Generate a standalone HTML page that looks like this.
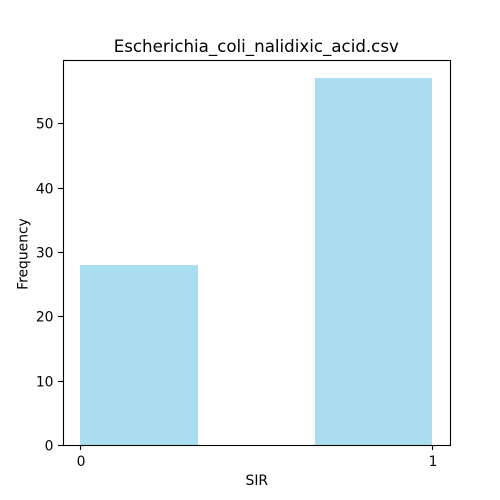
<!DOCTYPE html>
<html lang="en">
<head>
<meta charset="utf-8">
<title>Escherichia_coli_nalidixic_acid.csv</title>
<style>
html,body{margin:0;padding:0;background:#fff;width:500px;height:500px;overflow:hidden}
svg{display:block}
text{font-family:"DejaVu Sans",sans-serif;fill:#000}
</style>
</head>
<body>
<svg id="chart" xmlns="http://www.w3.org/2000/svg" width="500" height="500" viewBox="0 0 500 500">
  <rect x="0" y="0" width="500" height="500" fill="#ffffff"/>
  <g id="bars" shape-rendering="crispEdges"></g>
  <g id="ticks"></g>
  <rect x="63.5" y="60.5" width="387" height="385" fill="none" stroke="#000" stroke-width="1.1"/>
  <text x="256.3" y="52" font-size="16.67" text-anchor="middle">Escherichia_coli_nalidixic_acid.csv</text>
  <text x="256.8" y="485" font-size="13.89" text-anchor="middle">SIR</text>
  <text transform="translate(27.5 254) rotate(-90)" font-size="13.89" text-anchor="middle">Frequency</text>
</svg>
<script>
const binStarts = [0, 0.6667];
const binEnds = [0.3333, 1];
const frequencies = [28, 57];
const xTickValues = [0, 1];
const yTickValues = [0, 10, 20, 30, 40, 50];

const svgNS = 'http://www.w3.org/2000/svg';
const plotLeft = 62.5, plotRight = 450, plotTop = 60, plotBottom = 445;

const xMin = Math.min(...binStarts), xMax = Math.max(...binEnds);
const xPad = (xMax - xMin) * 0.05;
const yMax = Math.max(...frequencies) * 1.05;

function xScale(v) {
  return plotLeft + (v - (xMin - xPad)) / ((xMax + xPad) - (xMin - xPad)) * (plotRight - plotLeft);
}
function yScale(v) {
  return plotBottom - v / yMax * (plotBottom - plotTop);
}
function make(tag, attrs) {
  const el = document.createElementNS(svgNS, tag);
  for (const k in attrs) el.setAttribute(k, attrs[k]);
  return el;
}

const barsGroup = document.getElementById('bars');
frequencies.forEach(function (f, i) {
  const x0 = Math.round(xScale(binStarts[i])), x1 = Math.round(xScale(binEnds[i]));
  const y = Math.round(yScale(f));
  const bar = make('rect', {x: x0, y: y, width: x1 - x0, height: plotBottom - y, fill: '#87ceeb', 'fill-opacity': 0.7});
  
  
  barsGroup.appendChild(bar);
});

const ticksGroup = document.getElementById('ticks');
xTickValues.forEach(function (v) {
  const x = Math.round(xScale(v)) + 0.5;
  const tick = make('line', {x1: x, x2: x, y1: 445, y2: 450, stroke: '#000', 'stroke-width': 1.1});
  
  
  ticksGroup.appendChild(tick);
  const label = make('text', {x: x + 0.5, y: 466, 'font-size': 13.89, 'text-anchor': 'middle'});
  label.textContent = String(v);
  
  
  ticksGroup.appendChild(label);
});
yTickValues.forEach(function (v) {
  const y = Math.round(yScale(v)) + 0.5;
  const tick = make('line', {x1: 58, x2: 63.5, y1: y, y2: y, stroke: '#000', 'stroke-width': 1.1});
  
  
  ticksGroup.appendChild(tick);
  const label = make('text', {x: 53.5, y: y + 5, 'font-size': 13.89, 'text-anchor': 'end'});
  label.textContent = String(v);
  
  
  ticksGroup.appendChild(label);
});
</script>
</body>
</html>
